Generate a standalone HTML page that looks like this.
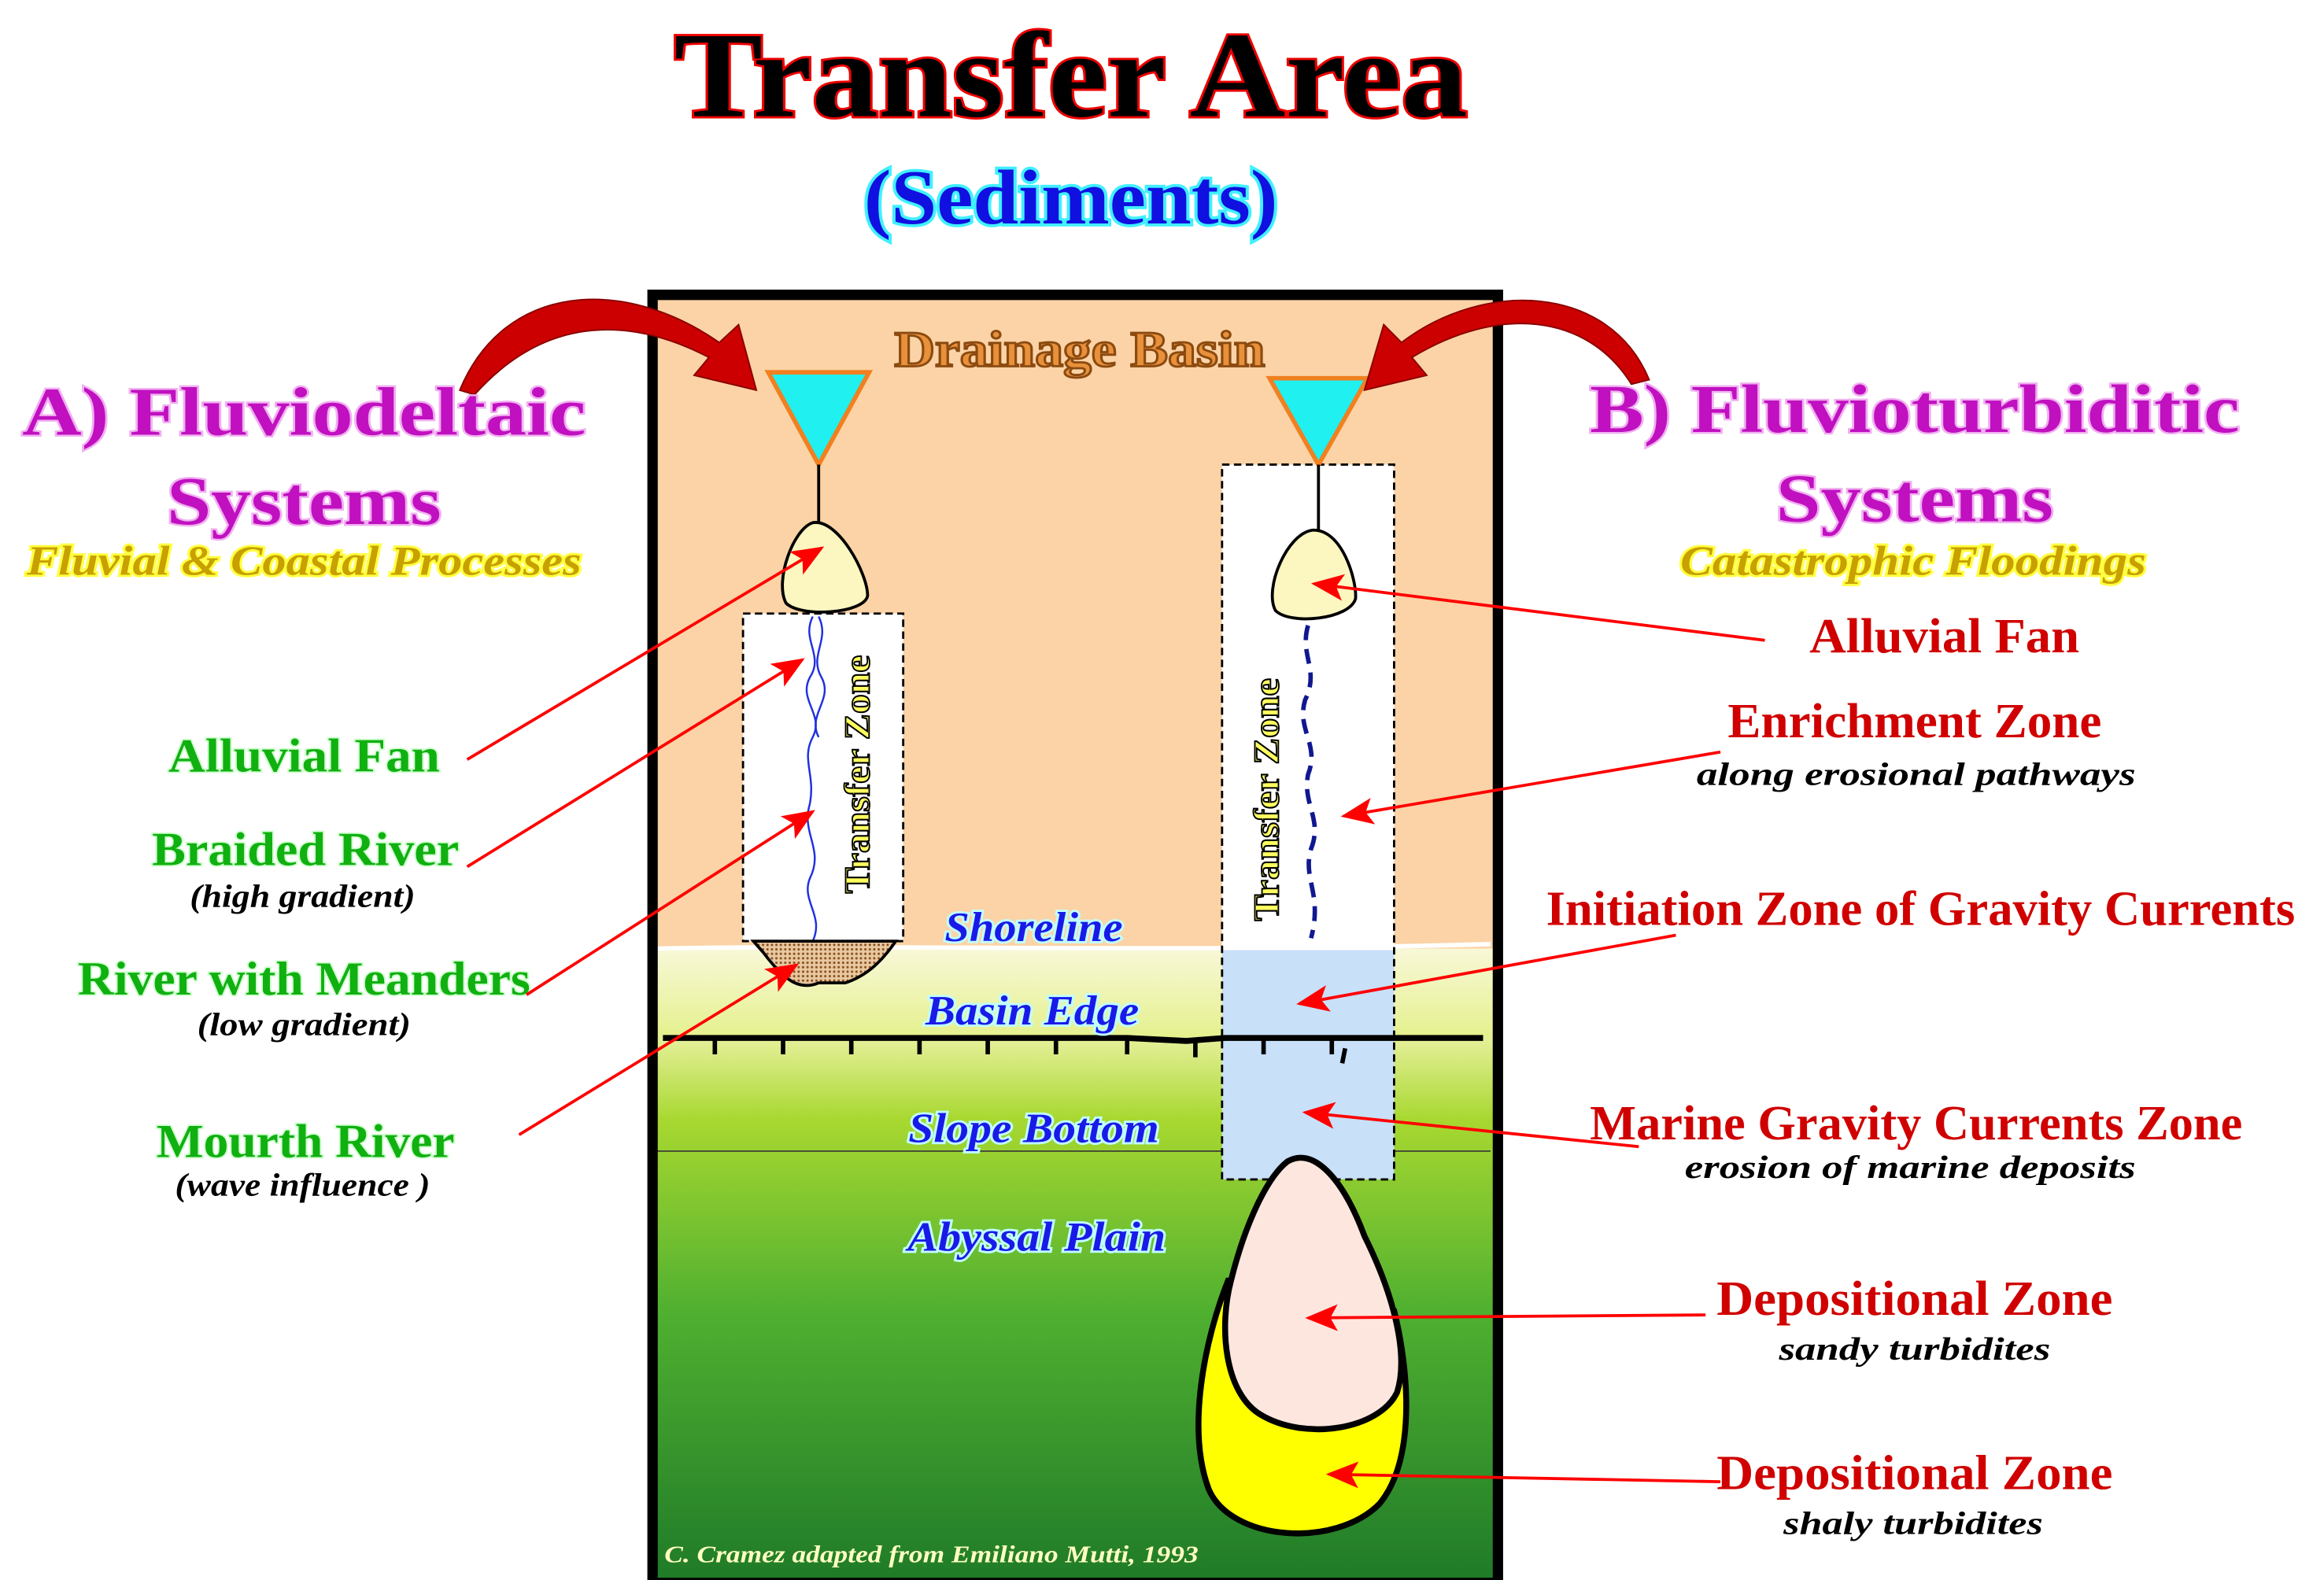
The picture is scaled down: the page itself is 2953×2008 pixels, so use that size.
<!DOCTYPE html>
<html><head><meta charset="utf-8"><style>
html,body{margin:0;padding:0;background:#fff;}
svg{display:block;}
text{font-family:"Liberation Serif",serif;font-weight:bold;}
</style></head><body>
<svg width="2953" height="2008" viewBox="0 0 1567 1061" preserveAspectRatio="none" xmlns="http://www.w3.org/2000/svg">
<defs>
<linearGradient id="g1" x1="0" y1="0" x2="0" y2="1">
<stop offset="0" stop-color="#f8f8d8"/><stop offset="1" stop-color="#e4f08a"/></linearGradient>
<linearGradient id="g2" x1="0" y1="0" x2="0" y2="1">
<stop offset="0" stop-color="#e6f09a"/><stop offset="0.15" stop-color="#a8d830"/><stop offset="0.5" stop-color="#50b030"/><stop offset="1" stop-color="#1f7a28"/></linearGradient>
<pattern id="dots" width="3" height="3" patternUnits="userSpaceOnUse"><rect width="3" height="3" fill="#e8c8a0"/><circle cx="1.5" cy="1.5" r="0.8" fill="#8a5020"/></pattern>
<marker id="ab" markerWidth="22" markerHeight="18" refX="20" refY="9" orient="auto" markerUnits="userSpaceOnUse"><path d="M0,0 L22,9 L0,18 L5,9z" fill="#f00"/></marker>
</defs>
<text x="722" y="78" font-size="82" text-anchor="middle" textLength="535" lengthAdjust="spacingAndGlyphs" fill="#000" stroke="#e00" stroke-width="3" paint-order="stroke">Transfer Area</text>
<text x="722" y="150" font-size="52" text-anchor="middle" textLength="279" lengthAdjust="spacingAndGlyphs" fill="#1010e0" stroke="#40f0ff" stroke-width="4" paint-order="stroke">(Sediments)</text>
<rect x="443" y="200" width="565" height="440" fill="#fbd3a6"/>
<rect x="443" y="637" width="565" height="62" fill="url(#g1)"/>
<rect x="443" y="697" width="565" height="366" fill="url(#g2)"/>
<path d="M443,637 C600,634 800,640 1005,634" stroke="#fff" stroke-width="3" fill="none"/>
<line x1="443" y1="773" x2="1005" y2="773" stroke="#333" stroke-width="0.8"/>
<rect x="824" y="312" width="116" height="326" fill="#fff"/>
<rect x="824" y="638" width="116" height="154" fill="#c8e0f8"/>
<rect x="824" y="312" width="116" height="480" fill="none" stroke="#000" stroke-width="1.5" stroke-dasharray="5,3"/>
<rect x="501" y="412" width="108" height="220" fill="#fff" stroke="#000" stroke-width="1.5" stroke-dasharray="5,3"/>
<path d="M447,697 L760,697 L800,699 L826,697 L1000,697" stroke="#000" stroke-width="4" fill="none"/>
<g stroke="#000" stroke-width="3">
<line x1="482" y1="697" x2="482" y2="708"/><line x1="528" y1="697" x2="528" y2="708"/><line x1="574" y1="697" x2="574" y2="708"/><line x1="620" y1="697" x2="620" y2="708"/><line x1="666" y1="697" x2="666" y2="708"/><line x1="712" y1="697" x2="712" y2="708"/><line x1="760" y1="697" x2="760" y2="708"/><line x1="806" y1="697" x2="806" y2="710"/><line x1="852" y1="697" x2="852" y2="708"/><line x1="898" y1="697" x2="898" y2="708"/><line x1="907" y1="704" x2="905" y2="714"/>
</g>
<rect x="440" y="198" width="570" height="865" fill="none" stroke="#000" stroke-width="7"/>
<text x="728" y="246" font-size="34" text-anchor="middle" textLength="250" lengthAdjust="spacingAndGlyphs" fill="#e8903a" stroke="#8a4a10" stroke-width="1.5">Drainage Basin</text>
<path d="M518,250 L586,250 L552,312 z" fill="#20f0f0" stroke="#f08020" stroke-width="3"/>
<path d="M856,254 L922,254 L889,312 z" fill="#20f0f0" stroke="#f08020" stroke-width="3"/>
<line x1="552" y1="312" x2="552" y2="352" stroke="#000" stroke-width="2"/>
<line x1="889" y1="312" x2="889" y2="356" stroke="#000" stroke-width="2"/>
<path d="M548,351 C565,348 585,385 585,400 C583,412 540,415 530,405 C522,390 535,355 548,351z" fill="#fcf6c0" stroke="#000" stroke-width="2"/>
<path d="M885,356 C905,355 915,390 914,402 C910,416 870,420 860,410 C852,395 868,358 885,356z" fill="#fcf6c0" stroke="#000" stroke-width="2"/>
<path d="M548,414 C540,430 556,440 546,455 C538,470 556,480 548,495 C540,510 550,520 546,540 C540,560 556,570 546,590 C540,605 556,615 548,632" stroke="#2030e0" stroke-width="1.3" fill="none"/>
<path d="M552,414 C560,430 545,440 554,455 C562,470 544,480 552,495" stroke="#2030e0" stroke-width="1.3" fill="none"/>
<path d="M882,420 C876,440 890,450 880,470 C874,490 890,500 882,520 C878,540 892,550 884,570 C878,590 892,600 884,630" stroke="#101890" stroke-width="3" fill="none" stroke-dasharray="10,6"/>
<path d="M508,632 L604,632 C595,645 585,655 570,660 L552,660 C540,665 530,660 515,640z" fill="url(#dots)" stroke="#000" stroke-width="2"/>
<text transform="translate(586,520) rotate(-90)" font-size="24" text-anchor="middle" textLength="160" lengthAdjust="spacingAndGlyphs" fill="#ffff60" stroke="#000" stroke-width="1">Transfer Zone</text>
<text transform="translate(862,537) rotate(-90)" font-size="24" text-anchor="middle" textLength="163" lengthAdjust="spacingAndGlyphs" fill="#ffff60" stroke="#000" stroke-width="1">Transfer Zone</text>
<g font-style="italic" font-size="28" text-anchor="middle" fill="#1a1ae8" stroke="#c0ffff" stroke-width="3" paint-order="stroke">
<text x="697" y="632" textLength="120" lengthAdjust="spacingAndGlyphs">Shoreline</text>
<text x="696" y="688" textLength="144" lengthAdjust="spacingAndGlyphs">Basin Edge</text>
<text x="697" y="767" textLength="169" lengthAdjust="spacingAndGlyphs">Slope Bottom</text>
<text x="699" y="840" textLength="174" lengthAdjust="spacingAndGlyphs">Abyssal Plain</text>
</g>
<path d="M828,860 C812,900 800,960 815,1000 C830,1035 900,1040 930,1010 C955,980 950,920 940,880 L930,870 L830,860z" fill="#ffff00" stroke="#000" stroke-width="4"/>
<path d="M868,780 C885,770 905,790 920,830 C940,870 950,910 942,935 C930,960 880,968 850,950 C825,935 822,890 830,860 C840,820 855,790 868,780z" fill="#fde6de" stroke="#000" stroke-width="4"/>
<text x="448" y="1049" font-size="16" font-style="italic" fill="#ffffc0" textLength="360" lengthAdjust="spacingAndGlyphs">C. Cramez adapted from Emiliano Mutti, 1993</text>
<path d="M310,262 C340,190 420,185 485,230 L498,218 L510,262 L468,252 L478,240 C420,210 365,215 320,265z" fill="#c00" stroke="#800" stroke-width="1"/>
<path d="M1112,255 C1085,190 1000,188 945,230 L933,218 L920,262 L962,252 L952,240 C1010,205 1070,210 1100,258z" fill="#c00" stroke="#800" stroke-width="1"/>
<g fill="#c010c0" stroke="#f0b0f0" stroke-width="2.5" paint-order="stroke" font-size="46" text-anchor="middle">
<text x="205" y="292" textLength="380" lengthAdjust="spacingAndGlyphs">A) Fluviodeltaic</text>
<text x="205" y="352" textLength="185" lengthAdjust="spacingAndGlyphs">Systems</text>
<text x="1291" y="290" textLength="438" lengthAdjust="spacingAndGlyphs">B) Fluvioturbiditic</text>
<text x="1291" y="350" textLength="187" lengthAdjust="spacingAndGlyphs">Systems</text>
</g>
<g font-style="italic" font-size="28" text-anchor="middle" fill="#c8a000" stroke="#ffff40" stroke-width="3" paint-order="stroke">
<text x="205" y="386" textLength="374" lengthAdjust="spacingAndGlyphs">Fluvial &amp; Coastal Processes</text>
<text x="1290" y="386" textLength="314" lengthAdjust="spacingAndGlyphs">Catastrophic Floodings</text>
</g>
<g font-size="32" text-anchor="middle" fill="#10b010" stroke="#d0ffd0" stroke-width="2" paint-order="stroke">
<text x="205" y="518" textLength="183" lengthAdjust="spacingAndGlyphs">Alluvial Fan</text>
<text x="206" y="581" textLength="207" lengthAdjust="spacingAndGlyphs">Braided River</text>
<text x="205" y="668" textLength="305" lengthAdjust="spacingAndGlyphs">River with Meanders</text>
<text x="206" y="777" textLength="201" lengthAdjust="spacingAndGlyphs">Mourth River</text>
</g>
<g font-size="22" font-style="italic" text-anchor="middle" fill="#000">
<text x="204" y="609" textLength="152" lengthAdjust="spacingAndGlyphs">(high gradient)</text>
<text x="205" y="695" textLength="144" lengthAdjust="spacingAndGlyphs">(low gradient)</text>
<text x="204" y="803" textLength="172" lengthAdjust="spacingAndGlyphs">(wave influence )</text>
<text x="1292" y="527" textLength="296" lengthAdjust="spacingAndGlyphs">along erosional pathways</text>
<text x="1288" y="791" textLength="304" lengthAdjust="spacingAndGlyphs">erosion of marine deposits</text>
<text x="1291" y="913" textLength="183" lengthAdjust="spacingAndGlyphs">sandy turbidites</text>
<text x="1290" y="1030" textLength="175" lengthAdjust="spacingAndGlyphs">shaly turbidites</text>
</g>
<g font-size="33" text-anchor="middle" fill="#d00000">
<text x="1311" y="438" textLength="182" lengthAdjust="spacingAndGlyphs">Alluvial Fan</text>
<text x="1291" y="495" textLength="252" lengthAdjust="spacingAndGlyphs">Enrichment Zone</text>
<text x="1295" y="621" textLength="505" lengthAdjust="spacingAndGlyphs">Initiation Zone of Gravity Currents</text>
<text x="1292" y="765" textLength="440" lengthAdjust="spacingAndGlyphs">Marine Gravity Currents Zone</text>
<text x="1291" y="883" textLength="267" lengthAdjust="spacingAndGlyphs">Depositional Zone</text>
<text x="1291" y="1000" textLength="267" lengthAdjust="spacingAndGlyphs">Depositional Zone</text>
</g>
<g stroke="#f00" stroke-width="2" fill="none" marker-end="url(#ab)">
<line x1="315" y1="510" x2="554" y2="368"/>
<line x1="315" y1="582" x2="541" y2="443"/>
<line x1="355" y1="668" x2="548" y2="545"/>
<line x1="350" y1="762" x2="537" y2="648"/>
<line x1="1190" y1="430" x2="886" y2="392"/>
<line x1="1160" y1="505" x2="906" y2="548"/>
<line x1="1130" y1="628" x2="876" y2="674"/>
<line x1="1105" y1="770" x2="880" y2="747"/>
<line x1="1150" y1="883" x2="882" y2="885"/>
<line x1="1160" y1="995" x2="896" y2="990"/>
</g>
</svg>
</body></html>
